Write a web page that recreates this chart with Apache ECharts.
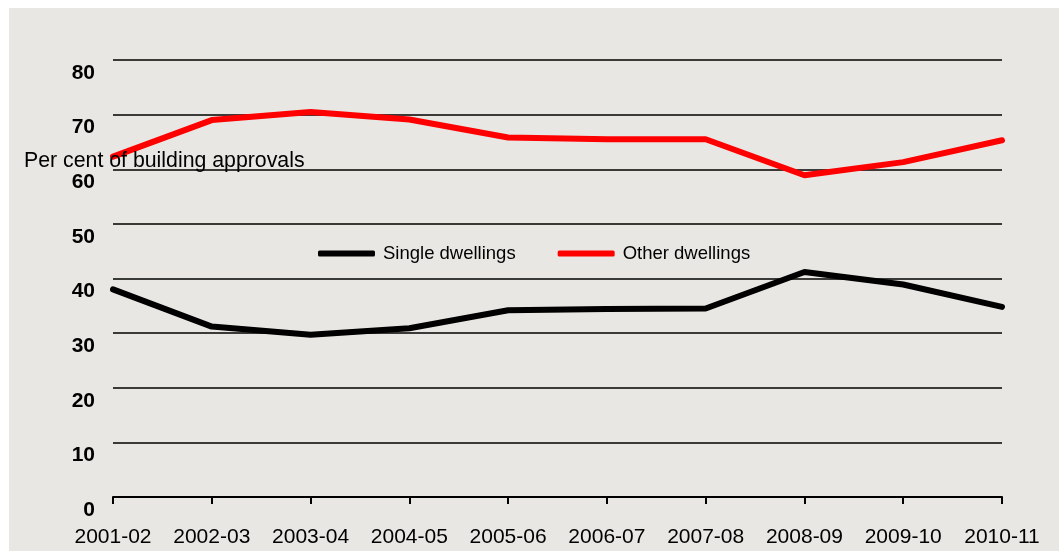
<!DOCTYPE html>
<html>
<head>
<meta charset="utf-8">
<script src="https://cdn.jsdelivr.net/npm/echarts@6/dist/echarts.min.js"></script>
<style>
html,body{margin:0;padding:0;background:#fff;}
#chart{width:1059px;height:552px;}
</style>
</head>
<body>
<div id="chart"></div>
<script>
const categories = ['2001-02','2002-03','2003-04','2004-05','2005-06','2006-07','2007-08','2008-09','2009-10','2010-11'];
const singleDwellings = [38.0, 31.2, 29.7, 30.9, 34.2, 34.4, 34.5, 41.2, 38.9, 34.8];
const otherDwellings = [62.3, 69.0, 70.5, 69.1, 65.8, 65.5, 65.5, 58.9, 61.3, 65.3];
const yAxisTitle = 'Per cent of building approvals';

const chart = echarts.init(document.getElementById('chart'), null, {renderer: 'canvas'});
const font = '"Liberation Sans", Arial, sans-serif';
chart.setOption({
  backgroundColor: '#ffffff',
  animation: false,
  graphic: [{
    type: 'rect', z: -10, silent: true,
    shape: {x: 9, y: 8, width: 1050, height: 543},
    style: {fill: '#e8e7e3'}
  }],
  title: {
    text: yAxisTitle,
    left: 24, top: 151, padding: 0,
    textStyle: {fontFamily: font, fontSize: 21.3, fontWeight: 'normal', color: '#000'}
  },
  legend: {
    left: 318, top: 244, padding: 0,
    itemWidth: 57, itemHeight: 6, itemGap: 42,
    icon: 'roundRect',
    textStyle: {fontFamily: font, fontSize: 18.5, color: '#000', padding: [0,0,0,3]},
    data: ['Single dwellings', 'Other dwellings']
  },
  grid: {left: 113, right: 57, top: 60, bottom: 55, containLabel: false},
  xAxis: {
    type: 'category',
    data: categories,
    boundaryGap: false,
    axisLine: {show: true, lineStyle: {color: '#000', width: 2}},
    axisTick: {show: true, interval: 0, alignWithLabel: true, length: 7, lineStyle: {color: '#000', width: 2}},
    axisLabel: {interval: 0, fontFamily: font, fontSize: 21, color: '#000', margin: 30},
    splitLine: {show: false}
  },
  yAxis: {
    type: 'value',
    min: 0, max: 80, interval: 10,
    axisLine: {show: false},
    axisTick: {show: false},
    axisLabel: {fontFamily: font, fontSize: 21, fontWeight: 'bold', color: '#000', margin: 18,
      verticalAlign: 'top', lineHeight: 26},
    splitLine: {show: true, lineStyle: {color: '#000', width: 1.5}}
  },
  series: [
    {
      name: 'Single dwellings', type: 'line', data: singleDwellings,
      showSymbol: false, symbol: 'none',
      itemStyle: {color: '#000'},
      lineStyle: {color: '#000', width: 6, cap: 'round'},
      z: 3
    },
    {
      name: 'Other dwellings', type: 'line', data: otherDwellings,
      showSymbol: false, symbol: 'none',
      itemStyle: {color: '#ff0000'},
      lineStyle: {color: '#ff0000', width: 6, cap: 'round'},
      z: 3
    }
  ]
});
</script>
</body>
</html>
